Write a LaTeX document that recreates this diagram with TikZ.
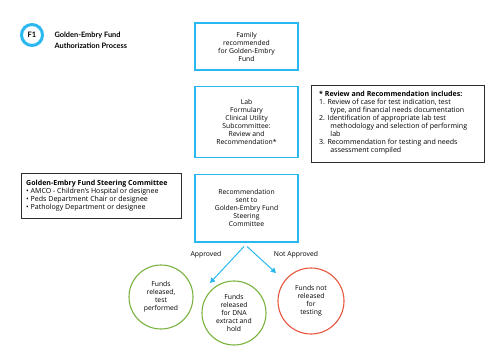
\documentclass[tikz,border=0pt]{standalone}
\usepackage{fontspec}
\setmainfont{Open Sans}
\newfontfamily\headfont{Lato}
\usetikzlibrary{positioning,arrows.meta}
\definecolor{fundblue}{RGB}{41,184,240}
\definecolor{fundgreen}{RGB}{122,178,62}
\definecolor{fundred}{RGB}{230,85,62}
\definecolor{notegray}{RGB}{45,45,45}

\begin{document}
\begin{tikzpicture}[
  x=1pt, y=-1pt,
  every node/.style={font=\fontsize{6.8}{8}\selectfont, align=center},
  notetext/.style={anchor=north west, align=left, inner sep=0pt, font=\fontsize{7.05}{8.1}\selectfont},
  stepbox/.style={draw=fundblue, line width=1.4pt, minimum width=103pt, inner sep=2pt},
  notebox/.style={draw=notegray, line width=1.3pt, align=left, inner sep=0pt, anchor=north west},
  okcirc/.style={circle, draw=fundgreen, line width=1.1pt, minimum size=64pt, inner sep=0pt},
  nocirc/.style={circle, draw=fundred, line width=1.1pt, minimum size=66pt, inner sep=0pt},
  arr/.style={-{Triangle[length=5pt,width=5.5pt]}, draw=fundblue, line width=1pt}
]
  \useasboundingbox (0,0) rectangle (500,358);

  % title
  \node[circle, draw=fundblue, line width=3pt, minimum size=21pt, inner sep=0pt,
        font=\headfont\bfseries\fontsize{7.5}{8}\selectfont] (badge) at (32,35) {F1};
  \node[right=7pt of badge, yshift=-5pt, align=left,
        font=\headfont\bfseries\fontsize{7.4}{11}\selectfont] (title) {Golden-Embry Fund\\Authorization Process};

  % main steps
  \node[stepbox, minimum height=47pt] (family) at (246.5,46.5) {Family\\recommended\\for Golden-Embry\\Fund};
  \node[stepbox, minimum height=71pt, below=15pt of family] (lab) {Lab\\Formulary\\Clinical Utility\\Subcommittee:\\Review and\\Recommendation*};
  \node[stepbox, minimum height=67pt, below=16pt of lab] (sent) {Recommendation\\sent to\\Golden-Embry Fund\\Steering\\Committee};

  % side notes
  \node[notebox, minimum width=173pt, minimum height=77pt] (review) at (311,85) {};
  \node[notetext] (reviewtxt) at (319,90.5)
    {\textbf{* Review and Recommendation includes:}\\
     1. Review of case for test indication, test\\
     \hspace*{1.6em}type, and financial needs documentation\\
     2. Identification of appropriate lab test\\
     \hspace*{1.6em}methodology and selection of performing\\
     \hspace*{1.6em}lab\\
     3. Recommendation for testing and needs\\
     \hspace*{1.6em}assessment compiled};
  \node[notebox, minimum width=160pt, minimum height=45pt] (steer) at (21,173) {};
  \node[notetext] (steertxt) at (26,180)
    {\textbf{Golden-Embry Fund Steering Committee}\\
     \textbullet\ AMCO - Children's Hospital or designee\\
     \textbullet\ Peds Department Chair or designee\\
     \textbullet\ Pathology Department or designee};

  % outcomes
  \node[okcirc] (tested) at (161,297) {Funds\\released,\\test\\performed};
  \node[okcirc] (hold) at (234,313) {Funds\\released\\for DNA\\extract and\\hold};
  \node[nocirc] (denied) at (311,301) {Funds not\\released\\for\\testing};

  \coordinate (yesend) at (210,283);
  \coordinate (noend) at (276,273);
  \draw[arr] ([xshift=-2.5pt,yshift=-4pt]sent.south) -- (yesend);
  \draw[arr] ([xshift=0.5pt,yshift=-4pt]sent.south) -- (noend);
  \node (yes) at (206,255) {Approved};
  \node (no) at (296,255) {Not Approved};
\end{tikzpicture}
\end{document}
